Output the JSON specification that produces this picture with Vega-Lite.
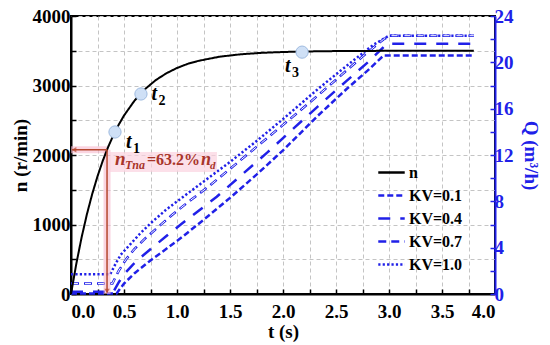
{
  "$schema": "https://vega.github.io/schema/vega-lite/v6.json",
  "width": 424,
  "height": 278,
  "autosize": {"type": "none"},
  "padding": {"left": 71, "top": 16, "right": 55, "bottom": 51},
  "background": "white",
  "config": {
    "view": {"stroke": "black", "strokeWidth": 2},
    "font": "Liberation Serif",
    "axis": {
      "labelFont": "Liberation Serif", "labelFontSize": 19, "labelFontWeight": "bold", "labelColor": "black",
      "titleFont": "Liberation Serif", "titleFontSize": 19, "titleFontWeight": "bold", "titleColor": "black",
      "domainWidth": 2, "domainColor": "black", "tickColor": "black", "tickWidth": 1.5, "tickSize": -5,
      "gridColor": "#c4c4c4", "gridDash": [4, 3], "gridWidth": 1
    }
  },
  "datasets": {
    "nline": [
      {"t": 0, "n": 0}, {"t": 0.05, "n": 434}, {"t": 0.1, "n": 814}, {"t": 0.15, "n": 1147}, {"t": 0.2, "n": 1438},
      {"t": 0.25, "n": 1693}, {"t": 0.3, "n": 1918}, {"t": 0.35, "n": 2114}, {"t": 0.4, "n": 2285}, {"t": 0.45, "n": 2436},
      {"t": 0.5, "n": 2568}, {"t": 0.6, "n": 2784}, {"t": 0.7, "n": 2950}, {"t": 0.8, "n": 3078}, {"t": 0.9, "n": 3176},
      {"t": 1.0, "n": 3252}, {"t": 1.1, "n": 3311}, {"t": 1.2, "n": 3354}, {"t": 1.4, "n": 3414}, {"t": 1.6, "n": 3449},
      {"t": 1.8, "n": 3470}, {"t": 2.0, "n": 3482}, {"t": 2.2, "n": 3489}, {"t": 2.4, "n": 3494}, {"t": 2.7, "n": 3497},
      {"t": 3.0, "n": 3499}, {"t": 3.4, "n": 3500}, {"t": 3.8, "n": 3500}
    ],
    "q": [
      {"series": "KV=0.1", "t": 0, "Q": 0.05}, {"series": "KV=0.1", "t": 0.43, "Q": 0.05}, {"series": "KV=0.1", "t": 0.5, "Q": 0.9},
      {"series": "KV=0.1", "t": 0.6, "Q": 1.8}, {"series": "KV=0.1", "t": 0.75, "Q": 2.9}, {"series": "KV=0.1", "t": 0.9, "Q": 3.9},
      {"series": "KV=0.1", "t": 1.06, "Q": 5.0}, {"series": "KV=0.1", "t": 1.25, "Q": 6.4}, {"series": "KV=0.1", "t": 1.5, "Q": 8.3},
      {"series": "KV=0.1", "t": 1.75, "Q": 10.3}, {"series": "KV=0.1", "t": 2.0, "Q": 12.4}, {"series": "KV=0.1", "t": 2.33, "Q": 15.4},
      {"series": "KV=0.1", "t": 2.6, "Q": 17.7}, {"series": "KV=0.1", "t": 2.8, "Q": 19.3}, {"series": "KV=0.1", "t": 2.95, "Q": 20.6},
      {"series": "KV=0.1", "t": 3.8, "Q": 20.6},
      {"series": "KV=0.4", "t": 0, "Q": 0.2}, {"series": "KV=0.4", "t": 0.4, "Q": 0.2}, {"series": "KV=0.4", "t": 0.45, "Q": 1.0},
      {"series": "KV=0.4", "t": 0.5, "Q": 1.7}, {"series": "KV=0.4", "t": 0.58, "Q": 2.5}, {"series": "KV=0.4", "t": 0.65, "Q": 3.1},
      {"series": "KV=0.4", "t": 0.78, "Q": 4.1}, {"series": "KV=0.4", "t": 0.9, "Q": 5.0}, {"series": "KV=0.4", "t": 1.05, "Q": 6.1},
      {"series": "KV=0.4", "t": 1.22, "Q": 7.3}, {"series": "KV=0.4", "t": 1.375, "Q": 8.4}, {"series": "KV=0.4", "t": 1.6, "Q": 10.2},
      {"series": "KV=0.4", "t": 1.85, "Q": 12.2}, {"series": "KV=0.4", "t": 2.1, "Q": 14.3}, {"series": "KV=0.4", "t": 2.33, "Q": 16.2},
      {"series": "KV=0.4", "t": 2.6, "Q": 18.4}, {"series": "KV=0.4", "t": 2.8, "Q": 20.0}, {"series": "KV=0.4", "t": 2.98, "Q": 21.6},
      {"series": "KV=0.4", "t": 3.8, "Q": 21.6},
      {"series": "KV=0.7", "t": 0, "Q": 0.9}, {"series": "KV=0.7", "t": 0.39, "Q": 0.9}, {"series": "KV=0.7", "t": 0.45, "Q": 2.0},
      {"series": "KV=0.7", "t": 0.52, "Q": 3.0}, {"series": "KV=0.7", "t": 0.6, "Q": 3.9}, {"series": "KV=0.7", "t": 0.7, "Q": 4.8},
      {"series": "KV=0.7", "t": 0.8, "Q": 5.6}, {"series": "KV=0.7", "t": 0.95, "Q": 6.8}, {"series": "KV=0.7", "t": 1.1, "Q": 7.9},
      {"series": "KV=0.7", "t": 1.3, "Q": 9.3}, {"series": "KV=0.7", "t": 1.5, "Q": 10.8}, {"series": "KV=0.7", "t": 1.75, "Q": 12.7},
      {"series": "KV=0.7", "t": 2.0, "Q": 14.6}, {"series": "KV=0.7", "t": 2.26, "Q": 16.6}, {"series": "KV=0.7", "t": 2.5, "Q": 18.5},
      {"series": "KV=0.7", "t": 2.75, "Q": 20.5}, {"series": "KV=0.7", "t": 2.95, "Q": 22.0}, {"series": "KV=0.7", "t": 3.02, "Q": 22.3},
      {"series": "KV=0.7", "t": 3.8, "Q": 22.3},
      {"series": "KV=1.0", "t": 0, "Q": 1.7}, {"series": "KV=1.0", "t": 0.37, "Q": 1.7}, {"series": "KV=1.0", "t": 0.42, "Q": 2.6},
      {"series": "KV=1.0", "t": 0.47, "Q": 3.4}, {"series": "KV=1.0", "t": 0.55, "Q": 4.2}, {"series": "KV=1.0", "t": 0.65, "Q": 5.2},
      {"series": "KV=1.0", "t": 0.75, "Q": 6.1}, {"series": "KV=1.0", "t": 0.9, "Q": 7.3}, {"series": "KV=1.0", "t": 1.06, "Q": 8.4},
      {"series": "KV=1.0", "t": 1.25, "Q": 9.7}, {"series": "KV=1.0", "t": 1.5, "Q": 11.4}, {"series": "KV=1.0", "t": 1.75, "Q": 13.2},
      {"series": "KV=1.0", "t": 2.0, "Q": 15.1}, {"series": "KV=1.0", "t": 2.33, "Q": 17.7}, {"series": "KV=1.0", "t": 2.6, "Q": 19.7},
      {"series": "KV=1.0", "t": 2.85, "Q": 21.5}, {"series": "KV=1.0", "t": 3.0, "Q": 22.3}, {"series": "KV=1.0", "t": 3.8, "Q": 22.3}
    ],
    "markers": [
      {"t": 0.415, "n": 2331, "sub": "1", "lt": 0.52, "ln": 2105},
      {"t": 0.66, "n": 2878, "sub": "2", "lt": 0.76, "ln": 2790},
      {"t": 2.18, "n": 3480, "sub": "3", "lt": 2.02, "ln": 3190}
    ],
    "anno": [{"t": 0.34, "n": 2075, "lt": 0.415, "ln": 1860}]
  },
  "encoding": {
    "x": {
      "field": "t", "type": "quantitative",
      "scale": {"domain": [0, 4], "nice": false},
      "axis": {
        "orient": "bottom", "title": "t (s)", "grid": true,
        "values": [0, 0.25, 0.5, 0.75, 1, 1.25, 1.5, 1.75, 2, 2.25, 2.5, 2.75, 3, 3.25, 3.5, 3.75, 4],
        "labelExpr": "(datum.value * 2) % 1 == 0 ? format(datum.value, '.1f') : ''",
        "labelPadding": 13, "titlePadding": 1
      }
    }
  },
  "layer": [
    {
      "encoding": {
        "y": {
          "field": "Q", "type": "quantitative",
          "scale": {"domain": [0, 24], "nice": false},
          "axis": {
            "orient": "right", "title": "Q (m³/h)", "grid": false,
            "values": [0, 2, 4, 6, 8, 10, 12, 14, 16, 18, 20, 22, 24],
            "labelExpr": "datum.value % 4 == 0 ? datum.label : ''",
            "domainColor": "#2020e8", "tickColor": "#2020e8", "labelColor": "#2020e8", "titleColor": "#2020e8",
            "labelPadding": 4, "titlePadding": 7
          }
        }
      },
      "layer": [
        {
          "data": {"name": "q"},
          "mark": {"type": "line", "strokeWidth": 2.5, "strokeCap": "butt"},
          "encoding": {
            "color": {
              "field": "series", "type": "nominal",
              "scale": {"domain": ["n", "KV=0.1", "KV=0.4", "KV=0.7", "KV=1.0"], "range": ["black", "#2020e8", "#2020e8", "#2020e8", "#2020e8"]},
              "legend": {"title": null, "orient": "none", "legendX": 306, "legendY": 142, "symbolType": "stroke", "symbolSize": 700, "symbolStrokeWidth": 2.5, "labelFont": "Liberation Serif", "labelFontSize": 16, "labelFontWeight": "bold", "labelColor": "black", "rowPadding": 0, "labelOffset": 3}
            },
            "strokeDash": {
              "field": "series", "type": "nominal",
              "scale": {"domain": ["n", "KV=0.1", "KV=0.4", "KV=0.7", "KV=1.0"], "range": [[1, 0], [6, 3], [12, 10], [8, 5], [2.2, 2.2]]},
              "legend": {"title": null, "orient": "none", "legendX": 306, "legendY": 142, "symbolType": "stroke", "symbolSize": 700, "symbolStrokeWidth": 2.5, "labelFont": "Liberation Serif", "labelFontSize": 16, "labelFontWeight": "bold", "labelColor": "black", "rowPadding": 0, "labelOffset": 3}
            }
          }
        },
        {
          "data": {"name": "q"},
          "transform": [{"filter": "datum.series == 'KV=0.7'"}],
          "mark": {"type": "line", "strokeWidth": 1, "stroke": "white", "strokeDash": [6, 7], "strokeDashOffset": -1, "strokeCap": "butt"}
        }
      ]
    },
    {
      "encoding": {
        "y": {
          "field": "n", "type": "quantitative",
          "scale": {"domain": [0, 4000], "nice": false},
          "axis": {
            "orient": "left", "title": "n (r/min)", "grid": true,
            "values": [0, 500, 1000, 1500, 2000, 2500, 3000, 3500, 4000],
            "labelExpr": "datum.value % 1000 == 0 ? datum.value : ''",
            "labelPadding": 6, "titlePadding": 2
          }
        }
      },
      "layer": [
        {
          "data": {"name": "anno"},
          "mark": {"type": "rule", "strokeWidth": 7, "color": "#f7b9cd", "opacity": 0.6},
          "encoding": {"x": {"datum": 0}, "x2": {"field": "t"}}
        },
        {
          "data": {"name": "anno"},
          "mark": {"type": "rule", "strokeWidth": 7, "color": "#f7b9cd", "opacity": 0.6},
          "encoding": {"y2": {"datum": 0}}
        },
        {
          "data": {"name": "anno"},
          "mark": {"type": "rect", "color": "#fbd3df", "opacity": 0.7},
          "encoding": {"x": {"datum": 0.368}, "x2": {"datum": 1.377}, "y": {"datum": 2043}, "y2": {"datum": 1755}}
        },
        {
          "data": {"name": "nline"},
          "mark": {"type": "line", "strokeWidth": 2, "color": "black"},
          "encoding": {"color": {"datum": "n"}, "strokeDash": {"datum": "n"}}
        },
        {
          "data": {"name": "anno"},
          "mark": {"type": "rule", "strokeWidth": 1.5, "color": "#b5472e"},
          "encoding": {"x": {"datum": 0.01}, "x2": {"field": "t"}}
        },
        {
          "data": {"name": "anno"},
          "mark": {"type": "rule", "strokeWidth": 1.5, "color": "#b5472e"},
          "encoding": {"y2": {"datum": 20}}
        },
        {
          "data": {"name": "anno"},
          "mark": {"type": "point", "shape": "triangle-left", "filled": true, "size": 30, "color": "#b5472e", "xOffset": 3},
          "encoding": {"x": {"datum": 0}}
        },
        {
          "data": {"name": "anno"},
          "mark": {"type": "point", "shape": "triangle-down", "filled": true, "size": 30, "color": "#b5472e", "yOffset": -3},
          "encoding": {"y": {"datum": 0}}
        },
        {
          "data": {"name": "anno"},
          "mark": {"type": "text", "text": "n", "align": "left", "baseline": "alphabetic", "font": "Liberation Serif", "fontSize": 19, "fontStyle": "italic", "fontWeight": "bold", "color": "#a8352a"},
          "encoding": {"x": {"field": "lt", "type": "quantitative"}, "y": {"field": "ln", "type": "quantitative"}}
        },
        {
          "data": {"name": "anno"},
          "mark": {"type": "text", "text": "Tna", "align": "left", "baseline": "alphabetic", "dx": 10, "dy": 4, "font": "Liberation Serif", "fontSize": 12, "fontStyle": "italic", "fontWeight": "bold", "color": "#a8352a"},
          "encoding": {"x": {"field": "lt", "type": "quantitative"}, "y": {"field": "ln", "type": "quantitative"}}
        },
        {
          "data": {"name": "anno"},
          "mark": {"type": "text", "text": "=63.2%", "align": "left", "baseline": "alphabetic", "dx": 32, "font": "Liberation Serif", "fontSize": 16, "fontWeight": "bold", "color": "#a8352a"},
          "encoding": {"x": {"field": "lt", "type": "quantitative"}, "y": {"field": "ln", "type": "quantitative"}}
        },
        {
          "data": {"name": "anno"},
          "mark": {"type": "text", "text": "n", "align": "left", "baseline": "alphabetic", "dx": 86, "font": "Liberation Serif", "fontSize": 18, "fontStyle": "italic", "fontWeight": "bold", "color": "#a8352a"},
          "encoding": {"x": {"field": "lt", "type": "quantitative"}, "y": {"field": "ln", "type": "quantitative"}}
        },
        {
          "data": {"name": "anno"},
          "mark": {"type": "text", "text": "d", "align": "left", "baseline": "alphabetic", "dx": 95, "dy": 4, "font": "Liberation Serif", "fontSize": 11, "fontStyle": "italic", "fontWeight": "bold", "color": "#a8352a"},
          "encoding": {"x": {"field": "lt", "type": "quantitative"}, "y": {"field": "ln", "type": "quantitative"}}
        },
        {
          "data": {"name": "markers"},
          "mark": {"type": "point", "shape": "circle", "filled": true, "size": 150, "fill": "#cfe0f6", "stroke": "#9fbbe0", "strokeWidth": 1, "opacity": 1}
        },
        {
          "data": {"name": "markers"},
          "mark": {"type": "text", "text": "t", "align": "left", "baseline": "alphabetic", "font": "Liberation Serif", "fontSize": 20, "fontStyle": "italic", "fontWeight": "bold", "color": "black"},
          "encoding": {"x": {"field": "lt", "type": "quantitative"}, "y": {"field": "ln", "type": "quantitative"}}
        },
        {
          "data": {"name": "markers"},
          "mark": {"type": "text", "align": "left", "baseline": "alphabetic", "dx": 7, "dy": 5, "font": "Liberation Serif", "fontSize": 14, "fontWeight": "bold", "color": "black"},
          "encoding": {"x": {"field": "lt", "type": "quantitative"}, "y": {"field": "ln", "type": "quantitative"}, "text": {"field": "sub"}}
        }
      ]
    }
  ],
  "resolve": {"scale": {"y": "independent"}}
}
